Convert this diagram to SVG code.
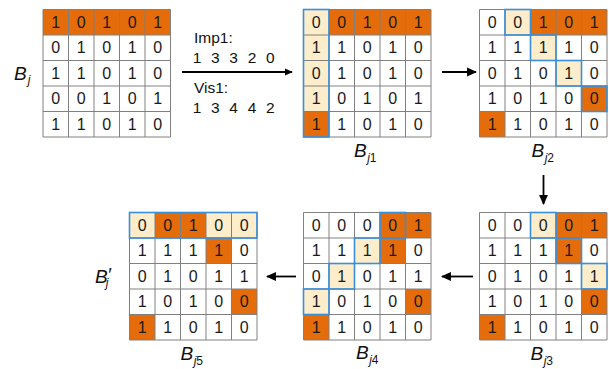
<svg xmlns="http://www.w3.org/2000/svg" width="609" height="369" viewBox="0 0 609 369">
  <style>
    .bg { fill: #ffffff; }
    .or { fill: #E46C0A; }
    .ye { fill: #FDEDCB; }
    .grid { fill: none; stroke: #808080; stroke-width: 1; }
    .hl { fill: none; stroke: #3A8FDA; stroke-width: 1.6; }
    .num { font-family: "Liberation Sans", Arial, sans-serif; font-size: 16px; fill: #1a1a1a; text-anchor: middle; }
    .lbl { font-family: "Liberation Sans", Arial, sans-serif; font-size: 19px; font-style: italic; fill: #111; }
    .sub { font-size: 12px; }
    .up { font-style: normal; }
    .note { font-family: "Liberation Sans", Arial, sans-serif; font-size: 15.5px; fill: #111; }
    .seq { font-family: "Liberation Sans", Arial, sans-serif; font-size: 15.5px; fill: #111; text-anchor: middle; }
    .arr { stroke: #000; stroke-width: 1.8; fill: none; }
  </style>
  <defs>
    <marker id="head" viewBox="0 0 10 10" refX="9" refY="5" markerWidth="5.5" markerHeight="5.5" orient="auto" markerUnits="strokeWidth">
      <path d="M0,0.5 L10,5 L0,9.5 Z" fill="#000"/>
    </marker>
    <marker id="headBig" viewBox="0 0 10 10" refX="9" refY="5" markerWidth="4.5" markerHeight="4.5" orient="auto" markerUnits="strokeWidth">
      <path d="M0,0.5 L10,5 L0,9.5 Z" fill="#000"/>
    </marker>
    <!-- 5x5 cell grid lines -->
    <path id="lines" d="M0,0 H127.5 V127.5 H0 Z M25.5,0 V127.5 M51,0 V127.5 M76.5,0 V127.5 M102,0 V127.5 M0,25.5 H127.5 M0,51 H127.5 M0,76.5 H127.5 M0,102 H127.5"/>
  </defs>

  <!-- original matrix B_j -->
  <g id="Bj" transform="translate(43,9.5)">
    <rect class="bg" width="127.5" height="127.5"/>
    <rect class="or" x="0" y="0" width="127.5" height="25.5"/>
    <use href="#lines" class="grid"/>
    <text class="num" x="12.75 38.25 63.75 89.25 114.75" y="18.4">10101</text>
    <text class="num" x="12.75 38.25 63.75 89.25 114.75" y="43.9">01010</text>
    <text class="num" x="12.75 38.25 63.75 89.25 114.75" y="69.4">11010</text>
    <text class="num" x="12.75 38.25 63.75 89.25 114.75" y="94.9">00101</text>
    <text class="num" x="12.75 38.25 63.75 89.25 114.75" y="120.4">11010</text>
  </g>
  <text class="lbl" x="14" y="80">B<tspan class="sub" dx="1" dy="4">j</tspan></text>

  <!-- importance / visit sequences -->
  <g id="seq">
    <text class="note" x="194" y="43">Imp1:</text>
    <text class="seq" x="197 215.3 233.6 252 270.3" y="63">13320</text>
    <text class="note" x="194" y="93">Vis1:</text>
    <text class="seq" x="197 215.3 233.6 252 270.3" y="113">13442</text>
  </g>

  <!-- step 1 -->
  <g id="Bj1" transform="translate(303.5,9.5)">
    <rect class="bg" width="127.5" height="127.5"/>
    <rect class="or" x="25.5" y="0" width="102" height="25.5"/>
    <rect class="ye" x="0" y="0" width="25.5" height="102"/>
    <rect class="or" x="0" y="102" width="25.5" height="25.5"/>
    <use href="#lines" class="grid"/>
    <rect class="hl" x="0" y="0" width="25.5" height="127.5"/>
    <text class="num" x="12.75 38.25 63.75 89.25 114.75" y="18.4">00101</text>
    <text class="num" x="12.75 38.25 63.75 89.25 114.75" y="43.9">11010</text>
    <text class="num" x="12.75 38.25 63.75 89.25 114.75" y="69.4">01010</text>
    <text class="num" x="12.75 38.25 63.75 89.25 114.75" y="94.9">10101</text>
    <text class="num" x="12.75 38.25 63.75 89.25 114.75" y="120.4">11010</text>
  </g>
  <text class="lbl" x="354" y="157">B<tspan class="sub" dx="0.5" dy="5">j</tspan><tspan class="sub up">1</tspan></text>

  <!-- step 2 -->
  <g id="Bj2" transform="translate(479.5,9.5)">
    <rect class="bg" width="127.5" height="127.5"/>
    <rect class="ye" x="25.5" y="0" width="25.5" height="25.5"/>
    <rect class="or" x="51" y="0" width="76.5" height="25.5"/>
    <rect class="ye" x="51" y="25.5" width="25.5" height="25.5"/>
    <rect class="ye" x="76.5" y="51" width="25.5" height="25.5"/>
    <rect class="or" x="102" y="76.5" width="25.5" height="25.5"/>
    <rect class="or" x="0" y="102" width="25.5" height="25.5"/>
    <use href="#lines" class="grid"/>
    <rect class="hl" x="25.5" y="0" width="25.5" height="25.5"/>
    <rect class="hl" x="51" y="25.5" width="25.5" height="25.5"/>
    <rect class="hl" x="76.5" y="51" width="25.5" height="25.5"/>
    <rect class="hl" x="102" y="76.5" width="25.5" height="25.5"/>
    <text class="num" x="12.75 38.25 63.75 89.25 114.75" y="18.4">00101</text>
    <text class="num" x="12.75 38.25 63.75 89.25 114.75" y="43.9">11110</text>
    <text class="num" x="12.75 38.25 63.75 89.25 114.75" y="69.4">01010</text>
    <text class="num" x="12.75 38.25 63.75 89.25 114.75" y="94.9">10100</text>
    <text class="num" x="12.75 38.25 63.75 89.25 114.75" y="120.4">11010</text>
  </g>
  <text class="lbl" x="531.5" y="157">B<tspan class="sub" dx="0.5" dy="5">j</tspan><tspan class="sub up">2</tspan></text>

  <!-- step 3 -->
  <g id="Bj3" transform="translate(479.5,212.5)">
    <rect class="bg" width="127.5" height="127.5"/>
    <rect class="ye" x="51" y="0" width="25.5" height="25.5"/>
    <rect class="or" x="76.5" y="0" width="51" height="25.5"/>
    <rect class="or" x="76.5" y="25.5" width="25.5" height="25.5"/>
    <rect class="ye" x="102" y="51" width="25.5" height="25.5"/>
    <rect class="or" x="102" y="76.5" width="25.5" height="25.5"/>
    <rect class="or" x="0" y="102" width="25.5" height="25.5"/>
    <use href="#lines" class="grid"/>
    <rect class="hl" x="51" y="0" width="25.5" height="25.5"/>
    <rect class="hl" x="76.5" y="25.5" width="25.5" height="25.5"/>
    <rect class="hl" x="102" y="51" width="25.5" height="25.5"/>
    <text class="num" x="12.75 38.25 63.75 89.25 114.75" y="18.4">00001</text>
    <text class="num" x="12.75 38.25 63.75 89.25 114.75" y="43.9">11110</text>
    <text class="num" x="12.75 38.25 63.75 89.25 114.75" y="69.4">01011</text>
    <text class="num" x="12.75 38.25 63.75 89.25 114.75" y="94.9">10100</text>
    <text class="num" x="12.75 38.25 63.75 89.25 114.75" y="120.4">11010</text>
  </g>
  <text class="lbl" x="530.5" y="359.5">B<tspan class="sub" dx="0.5" dy="5">j</tspan><tspan class="sub up">3</tspan></text>

  <!-- step 4 -->
  <g id="Bj4" transform="translate(303.5,212.5)">
    <rect class="bg" width="127.5" height="127.5"/>
    <rect class="or" x="76.5" y="0" width="51" height="25.5"/>
    <rect class="ye" x="51" y="25.5" width="25.5" height="25.5"/>
    <rect class="or" x="76.5" y="25.5" width="25.5" height="25.5"/>
    <rect class="ye" x="25.5" y="51" width="25.5" height="25.5"/>
    <rect class="ye" x="0" y="76.5" width="25.5" height="25.5"/>
    <rect class="or" x="102" y="76.5" width="25.5" height="25.5"/>
    <rect class="or" x="0" y="102" width="25.5" height="25.5"/>
    <use href="#lines" class="grid"/>
    <rect class="hl" x="76.5" y="0" width="25.5" height="25.5"/>
    <rect class="hl" x="51" y="25.5" width="25.5" height="25.5"/>
    <rect class="hl" x="25.5" y="51" width="25.5" height="25.5"/>
    <rect class="hl" x="0" y="76.5" width="25.5" height="25.5"/>
    <text class="num" x="12.75 38.25 63.75 89.25 114.75" y="18.4">00001</text>
    <text class="num" x="12.75 38.25 63.75 89.25 114.75" y="43.9">11110</text>
    <text class="num" x="12.75 38.25 63.75 89.25 114.75" y="69.4">01011</text>
    <text class="num" x="12.75 38.25 63.75 89.25 114.75" y="94.9">10100</text>
    <text class="num" x="12.75 38.25 63.75 89.25 114.75" y="120.4">11010</text>
  </g>
  <text class="lbl" x="356" y="359">B<tspan class="sub" dx="0.5" dy="5">j</tspan><tspan class="sub up">4</tspan></text>

  <!-- step 5 / result B'_j -->
  <g id="Bj5" transform="translate(129.5,212.5)">
    <rect class="bg" width="127.5" height="127.5"/>
    <rect class="ye" x="0" y="0" width="25.5" height="25.5"/>
    <rect class="or" x="25.5" y="0" width="51" height="25.5"/>
    <rect class="ye" x="76.5" y="0" width="51" height="25.5"/>
    <rect class="or" x="76.5" y="25.5" width="25.5" height="25.5"/>
    <rect class="or" x="102" y="76.5" width="25.5" height="25.5"/>
    <rect class="or" x="0" y="102" width="25.5" height="25.5"/>
    <use href="#lines" class="grid"/>
    <rect class="hl" x="0" y="0" width="127.5" height="25.5"/>
    <text class="num" x="12.75 38.25 63.75 89.25 114.75" y="18.4">00100</text>
    <text class="num" x="12.75 38.25 63.75 89.25 114.75" y="43.9">11110</text>
    <text class="num" x="12.75 38.25 63.75 89.25 114.75" y="69.4">01011</text>
    <text class="num" x="12.75 38.25 63.75 89.25 114.75" y="94.9">10100</text>
    <text class="num" x="12.75 38.25 63.75 89.25 114.75" y="120.4">11010</text>
  </g>
  <text class="lbl" x="180.5" y="359.5">B<tspan class="sub" dx="0.5" dy="5">j</tspan><tspan class="sub up">5</tspan></text>
  <text class="lbl" x="95" y="283">B<tspan dx="0.5" dy="-2" class="up">′</tspan><tspan class="sub" dx="-6" dy="6">j</tspan></text>

  <!-- connectors -->
  <g id="connectors">
    <line class="arr" x1="182" y1="72" x2="292" y2="72" stroke-width="2.6" marker-end="url(#headBig)"/>
    <line class="arr" x1="442" y1="72" x2="476" y2="72" marker-end="url(#head)"/>
    <line class="arr" x1="543.5" y1="175" x2="543.5" y2="204" marker-end="url(#head)"/>
    <line class="arr" x1="473" y1="276.5" x2="442" y2="276.5" marker-end="url(#head)"/>
    <line class="arr" x1="296" y1="276.5" x2="267" y2="276.5" marker-end="url(#head)"/>
  </g>
</svg>
